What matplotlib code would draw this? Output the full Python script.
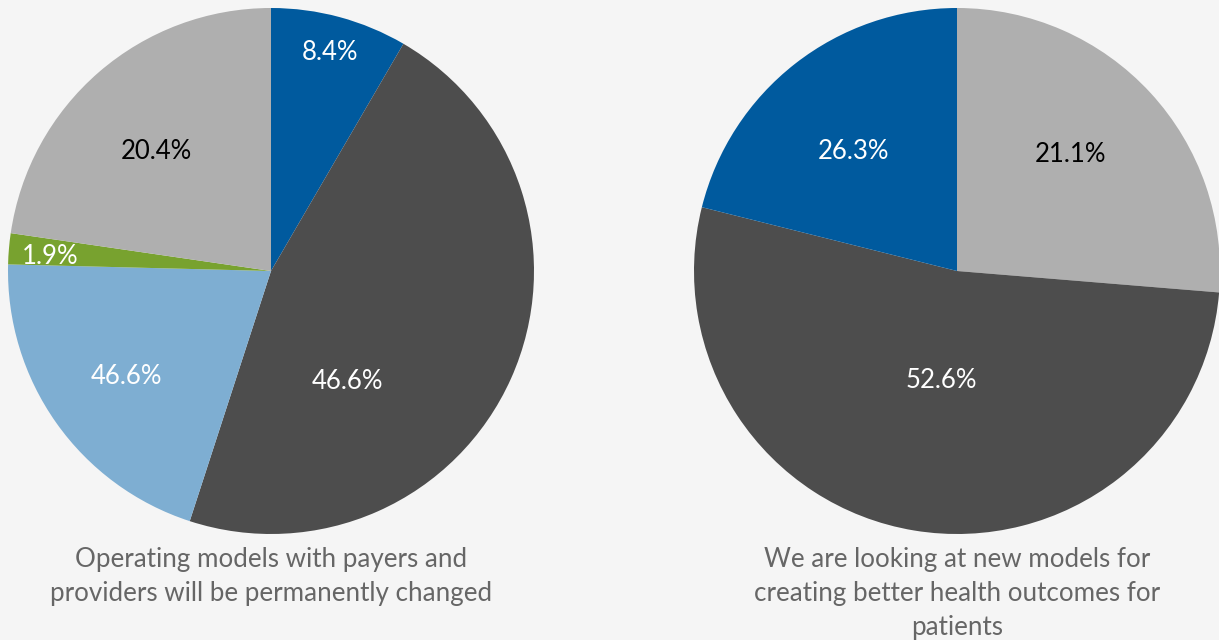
import numpy as np
import matplotlib.pyplot as plt

# slice sizes (percent of respondents) and the labels printed on them
left_values = [8.4, 46.6, 20.4, 1.9, 22.7]
left_labels = ['8.4%', '46.6%', '46.6%', '1.9%', '20.4%']
left_colors = ['#005a9e', '#4d4d4d', '#7eaed2', '#78a22f', '#afafaf']
left_text = ['white', 'white', 'white', 'white', 'black']
# radial position of each label (fraction of radius) and angle shift in degrees
left_lpos = [(0.86, 0), (0.51, 31), (0.68, -1), (0.84, -1), (0.63, -3)]

right_values = [26.3, 52.6, 21.1]
right_labels = ['21.1%', '52.6%', '26.3%']
right_colors = ['#afafaf', '#4d4d4d', '#005a9e']
right_text = ['black', 'white', 'white']
right_lpos = [(0.62, -3), (0.42, -1), (0.60, -3)]

left_title = 'Operating models with payers and\nproviders will be permanently changed'
right_title = 'We are looking at new models for\ncreating better health outcomes for\npatients'

bg = '#f5f5f5'
W, H = 1219, 640
R = 263

fig = plt.figure(figsize=(W / 100, H / 100), dpi=100, facecolor=bg)


def draw_pie(cx, cy, values, labels, colors, tcolors, lpos, title):
    ax = fig.add_axes([(cx - R) / W, (H - cy - R) / H, 2 * R / W, 2 * R / H])
    ax.set_facecolor(bg)
    wedges, _ = ax.pie(values, colors=colors, startangle=90, counterclock=False,
                       radius=1, wedgeprops=dict(linewidth=0))
    ax.set_xlim(-1, 1)
    ax.set_ylim(-1, 1)
    ax.set_aspect('equal')
    ax.axis('off')
    for w, lab, tc, (r, shift) in zip(wedges, labels, tcolors, lpos):
        mid = np.deg2rad((w.theta1 + w.theta2) / 2 - shift)
        ax.text(r * np.cos(mid), r * np.sin(mid), lab, color=tc,
                fontsize=18.5, family='Lato', ha='center', va='center')
    fig.text(cx / W, 1 - 547 / H, title, ha='center', va='top',
             fontsize=18.7, family='Lato', color='#666666',
             linespacing=1.45)


draw_pie(271, 271, left_values, left_labels, left_colors, left_text,
         left_lpos, left_title)
draw_pie(957, 271, right_values, right_labels, right_colors, right_text,
         right_lpos, right_title)

plt.savefig('out.png', dpi=100, facecolor=bg)
plt.close()
